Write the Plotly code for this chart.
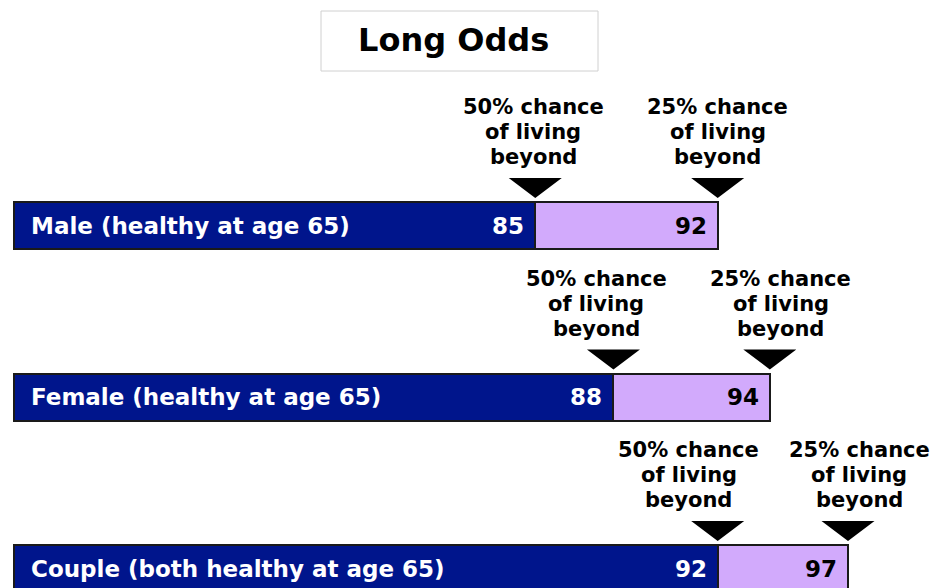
import plotly.graph_objects as go

# Data
groups = ["Male (healthy at age 65)", "Female (healthy at age 65)", "Couple (both healthy at age 65)"]
start_age = 65
p50 = [85, 88, 92]   # 50% chance of living beyond
p25 = [92, 94, 97]   # 25% chance of living beyond
label_lines50 = ["50% chance", "of living", "beyond"]
label_lines25 = ["25% chance", "of living", "beyond"]
title_text = "Long Odds"

# page body has an 8px margin -> figure drawn at (8, 8)
OFF = 8
W, H = 942 - OFF, 588 - OFF
DARK = "#00158c"
LAV = "#d2aafc"
FONT = "DejaVu Sans"

# label horizontal nudges (px) so neighbouring callouts do not collide
shift50 = [-2, -17, -29]
shift25 = [0, 11, 11]

ypos = list(range(len(groups)))
px_per_year = (848 - 14) / 32.0
px_per_cat = 171.5
left_px = 14 - OFF
c0_px = 225.5 - OFF
x0 = start_age - left_px / px_per_year
x1 = start_age + (W - left_px) / px_per_year
y_top = -c0_px / px_per_cat
y_bot = 2 + (H - (c0_px + 2 * px_per_cat)) / px_per_cat
bar_w = 47 / px_per_cat

fig = go.Figure()
fig.add_trace(go.Bar(
    y=ypos, x=[v - start_age for v in p50], base=start_age, orientation="h",
    width=bar_w, marker=dict(color=DARK, line=dict(color="#1a1a1a", width=2)),
    hoverinfo="skip", showlegend=False))
fig.add_trace(go.Bar(
    y=ypos, x=[b - a for a, b in zip(p50, p25)], base=p50, orientation="h",
    width=bar_w, marker=dict(color=LAV, line=dict(color="#1a1a1a", width=2)),
    hoverinfo="skip", showlegend=False))

# triangles pointing at bar boundaries
hw = 26.5 / px_per_year
tri_top = (225.5 - 178) / px_per_cat
tri_apex = (225.5 - 198) / px_per_cat
tx, ty = [], []
for i in ypos:
    for v in (p50[i], p25[i]):
        tx += [v - hw, v + hw, v, v - hw, None]
        ty += [i - tri_top, i - tri_top, i - tri_apex, i - tri_top, None]
fig.add_trace(go.Scatter(x=tx, y=ty, mode="lines", fill="toself", fillcolor="black",
                         line=dict(width=0, color="black"), hoverinfo="skip", showlegend=False))

ann = []
line_offsets = [118.5, 93.5, 68.5]
cfont = dict(family=FONT, size=21, color="black", weight="bold")
for i in ypos:
    for lines, vals, sh in ((label_lines50, p50, shift50), (label_lines25, p25, shift25)):
        for ln, off in zip(lines, line_offsets):
            ann.append(dict(x=vals[i], y=i - off / px_per_cat, text=ln, showarrow=False,
                            xanchor="center", yanchor="middle", xshift=sh[i], font=cfont))
    ann.append(dict(x=start_age, y=i, text=groups[i], showarrow=False,
                    xanchor="left", yanchor="middle", xshift=15,
                    font=dict(family=FONT, size=23, color="white", weight="bold")))
    ann.append(dict(x=p50[i], y=i, text=str(p50[i]), showarrow=False,
                    xanchor="right", yanchor="middle", xshift=-9,
                    font=dict(family=FONT, size=23, color="white", weight="bold")))
    ann.append(dict(x=p25[i], y=i, text=str(p25[i]), showarrow=False,
                    xanchor="right", yanchor="middle", xshift=-9,
                    font=dict(family=FONT, size=23, color="black", weight="bold")))

# title box
ann.append(dict(xref="paper", yref="paper", x=(453 - OFF) / W, y=1 - (40 - OFF) / H, text=title_text,
                showarrow=False, xanchor="center", yanchor="middle",
                font=dict(family=FONT, size=32, color="black", weight="bold")))

fig.update_layout(
    width=W, height=H, margin=dict(l=0, r=0, t=0, b=0),
    paper_bgcolor="white", plot_bgcolor="white",
    barmode="overlay", bargap=0,
    xaxis=dict(range=[x0, x1], visible=False, fixedrange=True),
    yaxis=dict(range=[y_bot, y_top], visible=False, fixedrange=True),
    shapes=[dict(type="rect", xref="paper", yref="paper",
                 x0=(321 - OFF) / W, x1=(598 - OFF) / W,
                 y0=1 - (71 - OFF) / H, y1=1 - (11 - OFF) / H,
                 line=dict(color="#d0d0d0", width=1), fillcolor="white", layer="below")],
    annotations=ann,
)
fig.write_html("out.html")
